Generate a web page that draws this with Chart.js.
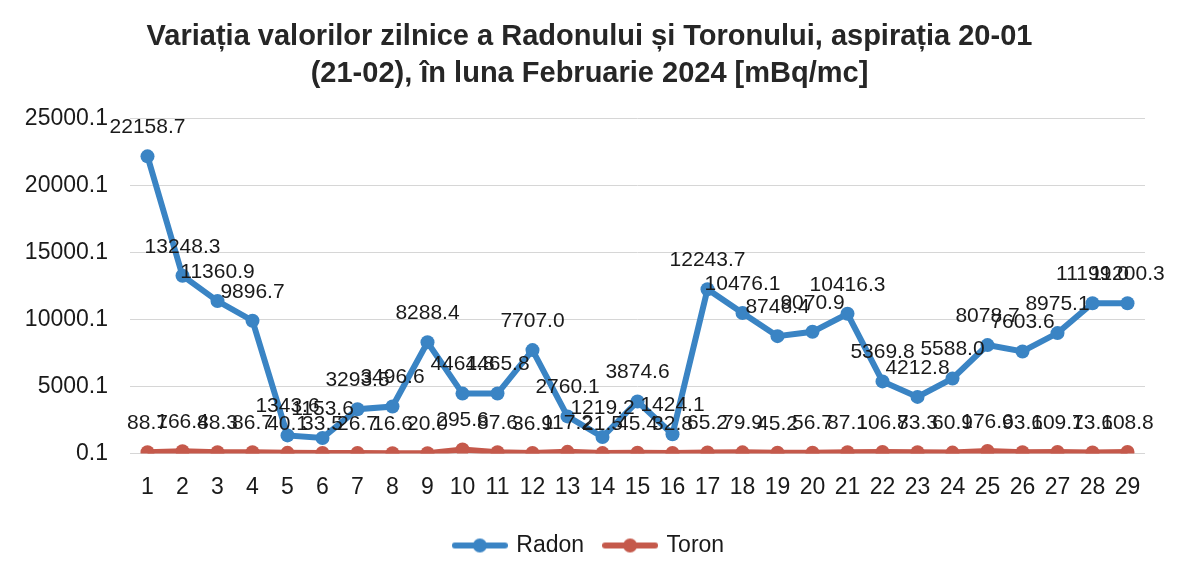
<!DOCTYPE html>
<html>
<head>
<meta charset="utf-8">
<script src="https://cdn.jsdelivr.net/npm/chart.js@4/dist/chart.umd.min.js"></script>
<style>
  html, body { margin: 0; padding: 0; background: #fff; }
  #wrap { width: 1179px; height: 575px; position: relative; }
  canvas { display: block; }
</style>
</head>
<body>
<div id="wrap"><canvas id="c" width="1179" height="575"></canvas></div>
<script>
const days = ['1','2','3','4','5','6','7','8','9','10','11','12','13','14','15','16','17','18','19','20','21','22','23','24','25','26','27','28','29'];
const radon = [22158.7, 13248.3, 11360.9, 9896.7, 1343.6, 1153.6, 3293.5, 3496.6, 8288.4, 4461.8, 4465.8, 7707.0, 2760.1, 1219.2, 3874.6, 1424.1, 12243.7, 10476.1, 8746.4, 9070.9, 10416.3, 5369.8, 4212.8, 5588.0, 8078.7, 7603.6, 8975.1, 11199.0, 11200.3];
const toron = [88.7, 166.4, 88.3, 86.7, 40.1, 33.5, 26.7, 16.6, 20.0, 295.6, 87.6, 36.9, 117.2, 21.5, 45.4, 32.8, 65.2, 79.9, 45.2, 56.7, 87.1, 106.7, 83.3, 60.9, 176.6, 93.6, 109.1, 73.6, 108.8];
const yTicks = [0.1, 5000.1, 10000.1, 15000.1, 20000.1, 25000.1];
const titleLines = ['Variația valorilor zilnice a Radonului și Toronului, aspirația 20-01', '(21-02), în luna Februarie 2024 [mBq/mc]'];

const BLUE = '#3A84C4';
const RED = '#C5594B';
const FONT = "'Liberation Sans', Arial, sans-serif";

function legendIcon(color) {
  const cv = document.createElement('canvas');
  cv.width = 56; cv.height = 16;
  const g = cv.getContext('2d');
  g.strokeStyle = color; g.lineWidth = 6; g.lineCap = 'round';
  g.beginPath(); g.moveTo(3, 8); g.lineTo(53, 8); g.stroke();
  g.fillStyle = color;
  g.beginPath(); g.arc(28, 8, 7, 0, Math.PI * 2); g.fill();
  return cv;
}

const labelPlugin = {
  id: 'pointLabels',
  afterDatasetsDraw(chart) {
    const ctx = chart.ctx;
    ctx.save();
    ctx.font = '21px ' + FONT;
    ctx.fillStyle = '#1a1a1a';
    ctx.textAlign = 'center';
    ctx.textBaseline = 'middle';
    chart.data.datasets.forEach((ds, i) => {
      const meta = chart.getDatasetMeta(i);
      meta.data.forEach((pt, j) => {
        ctx.fillText(ds.data[j].toFixed(1), pt.x, pt.y - 29);
      });
    });
    ctx.restore();
  }
};

new Chart(document.getElementById('c'), {
  type: 'line',
  data: {
    labels: days,
    datasets: [
      { label: 'Radon', data: radon, borderColor: BLUE, backgroundColor: BLUE, borderWidth: 6,
        pointStyle: 'circle', pointRadius: 7, pointHoverRadius: 7, pointBackgroundColor: BLUE, pointBorderWidth: 0,
        tension: 0 },
      { label: 'Toron', data: toron, borderColor: RED, backgroundColor: RED, borderWidth: 6,
        pointStyle: 'circle', pointRadius: 7, pointHoverRadius: 7, pointBackgroundColor: RED, pointBorderWidth: 0,
        tension: 0 }
    ]
  },
  options: {
    responsive: false,
    animation: false,
    devicePixelRatio: 1,
    layout: { padding: { left: 0, right: 0, top: 0, bottom: 8 } },
    scales: {
      x: {
        offset: true,
        grid: { display: false },
        border: { display: false },
        ticks: { color: '#1a1a1a', font: { family: FONT, size: 23 }, padding: 12, maxRotation: 0, autoSkip: false }
      },
      y: {
        min: 0.1, max: 25000.1,
        afterBuildTicks(axis) { axis.ticks = yTicks.map(v => ({ value: v })); },
        afterFit(axis) { axis.width = 130; },
        grid: { color: '#d6d6d6', lineWidth: 1, drawTicks: false },
        border: { display: false },
        ticks: { color: '#1a1a1a', font: { family: FONT, size: 23 }, padding: 22,
          callback: v => Number(v).toFixed(1) }
      },
      yR: {
        position: 'right',
        display: true,
        grid: { display: false },
        border: { display: false },
        ticks: { display: false },
        afterFit(axis) { axis.width = 34; }
      }
    },
    plugins: {
      title: {
        display: true, text: titleLines, color: '#262626',
        font: { family: FONT, size: 29, weight: 'bold', lineHeight: 1.28 },
        padding: { top: 18, bottom: 26 }
      },
      legend: {
        position: 'bottom',
        labels: {
          color: '#1a1a1a', font: { family: FONT, size: 23 },
          usePointStyle: true, pointStyleWidth: 50, boxHeight: 16, padding: 21,
          generateLabels(chart) {
            return chart.data.datasets.map((ds, i) => ({
              text: ds.label, pointStyle: legendIcon(ds.borderColor), fillStyle: ds.borderColor,
              strokeStyle: ds.borderColor, lineWidth: 0, datasetIndex: i, hidden: false, fontColor: '#1a1a1a'
            }));
          }
        }
      },
      tooltip: { enabled: false }
    }
  },
  plugins: [labelPlugin]
});
</script>
</body>
</html>
